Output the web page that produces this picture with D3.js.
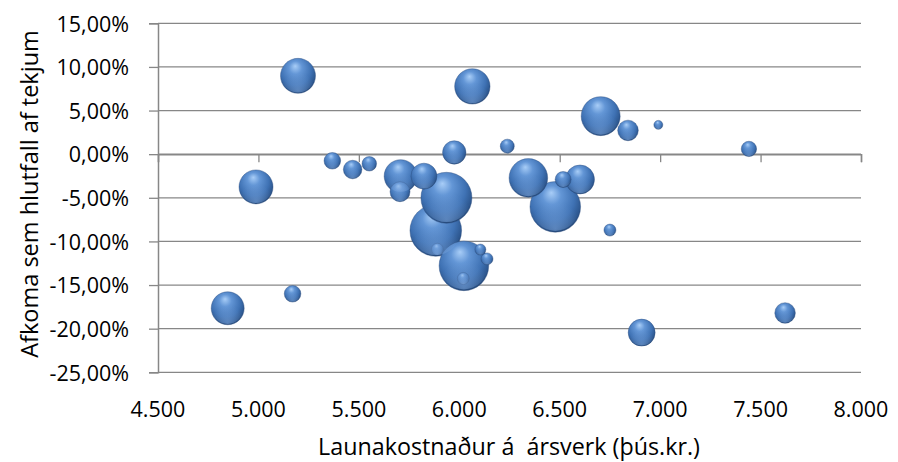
<!DOCTYPE html>
<html><head><meta charset="utf-8">
<script src="https://cdn.jsdelivr.net/npm/d3@7"></script>
<style>body{margin:0;background:#fff;} text{font-family:"Open Sans",sans-serif;fill:#000;}</style>
</head><body>
<svg id="c" width="898" height="462"></svg>
<script>
// Data: wage cost per FTE (thous. ISK), profit as % of revenue, bubble size
const xVals = [5197,6065,6704,6840,6991,7442,6239,5975,5368,5469,5552,4988,5708,5705,5824,5936,5883,6023,5891,6105,6138,6020,5170,4847,6478,6344,6601,6517,6750,6908,7622];
const yVals = [8.98,7.77,4.36,2.72,3.36,0.6,0.92,0.2,-0.76,-1.76,-1.1,-3.75,-2.52,-4.3,-2.52,-5.0,-8.75,-12.8,-10.9,-10.93,-12.0,-14.25,-16.0,-17.66,-6.04,-2.72,-2.9,-2.9,-8.7,-20.45,-18.2];
const sizes = [306,313,380,106,20,59,49,137,69,86,53,289,272,100,169,650,666,615,36,30,36,36,69,272,640,372,210,64,36,182,106];
const xTicks = [4500,5000,5500,6000,6500,7000,7500,8000];
const yTicks = [15,10,5,0,-5,-10,-15,-20,-25];
const xTitle = "Launakostnaður á  ársverk (þús.kr.)";
const yTitle = "Afkoma sem hlutfall af tekjum";

const svg = d3.select("#c");
const L=158, R=861, T=23.3, B=372.3;
const x = d3.scaleLinear().domain([4500,8000]).range([L,R]);
const y = d3.scaleLinear().domain([-25,15]).range([B,T]);
const r = d3.scaleSqrt().domain([0,729]).range([0,27]);
const grid="#878787";
const fmtY = d => d3.format(".2f")(d).replace("−","-").replace(".",",")+"%";
const fmtX = d => d3.format(",")(d).replace(",",".");

const defs = svg.append("defs");
const g = defs.append("radialGradient").attr("id","sph").attr("cx","45%").attr("cy","38%").attr("r","62%").attr("fx","42%").attr("fy","22%");
g.append("stop").attr("offset","0%").attr("stop-color","#a8cdf7");
g.append("stop").attr("offset","30%").attr("stop-color","#6396d6");
g.append("stop").attr("offset","70%").attr("stop-color","#3f72b4");
g.append("stop").attr("offset","92%").attr("stop-color","#2d578f");
g.append("stop").attr("offset","100%").attr("stop-color","#264a7a");
const rg = defs.append("radialGradient").attr("id","refl").attr("cx","50%").attr("cy","95%").attr("r","55%");
rg.append("stop").attr("offset","0%").attr("stop-color","#7fa9e0").attr("stop-opacity",0.55);
rg.append("stop").attr("offset","100%").attr("stop-color","#7fa9e0").attr("stop-opacity",0);

// gridlines
svg.append("g").selectAll("line").data(yTicks).join("line")
  .attr("x1",L).attr("x2",R).attr("y1",d=>y(d)).attr("y2",d=>y(d))
  .attr("stroke",grid).attr("stroke-width",1.3);

// y axis
const ya = svg.append("g").attr("transform",`translate(${L},0)`)
  .call(d3.axisLeft(y).tickValues(yTicks).tickSize(9).tickPadding(20).tickFormat(fmtY));
ya.select(".domain").attr("stroke",grid).attr("stroke-width",1.5);
ya.selectAll(".tick line").attr("stroke",grid).attr("stroke-width",1.3);
ya.selectAll("text").style("font-size","21.5px").attr("fill","#000").attr("dy","0.36em");

// x axis at y=0
const xa = svg.append("g").attr("transform",`translate(0,${y(0)})`)
  .call(d3.axisBottom(x).tickValues(xTicks).tickSize(8).tickFormat(fmtX));
xa.select(".domain").attr("stroke",grid).attr("stroke-width",1.5);
xa.selectAll(".tick line").attr("stroke",grid).attr("stroke-width",1.3);
xa.selectAll("text").remove();
// x tick labels at bottom
svg.append("g").selectAll("text").data(xTicks).join("text")
  .attr("x",d=>x(d)).attr("y",417).attr("text-anchor","middle").style("font-size","21.5px")
  .text(fmtX);

// bubbles
const data = xVals.map((v,i)=>({x:v,y:yVals[i],s:sizes[i]})).sort((a,b)=>b.s-a.s);
const bg = svg.append("g");
bg.selectAll("circle.b").data(data).join("circle").attr("class","b")
  .attr("cx",d=>x(d.x)).attr("cy",d=>y(d.y)).attr("r",d=>r(d.s))
  .attr("fill","url(#sph)").attr("stroke","#2a4c7c").attr("stroke-opacity",0.5).attr("stroke-width",0.8)
  .each(function(d){
    d3.select(this.parentNode).append("circle")
      .attr("cx",x(d.x)).attr("cy",y(d.y)).attr("r",r(d.s)*0.95)
      .attr("fill","url(#refl)").attr("pointer-events","none");
  });

// titles
svg.append("text").attr("x",509).attr("y",455).attr("text-anchor","middle")
  .style("font-size","23.3px").style("white-space","pre").text(xTitle);
svg.append("text").attr("transform","translate(38,194) rotate(-90)").attr("text-anchor","middle")
  .style("font-size","23.5px").text(yTitle);
</script>
</body></html>
